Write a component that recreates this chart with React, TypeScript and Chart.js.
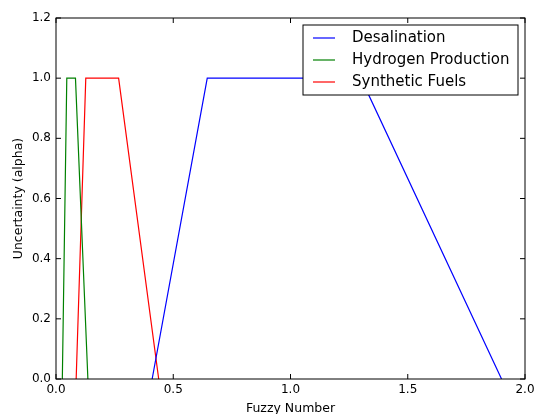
import React, { useEffect, useRef } from "react";
import { Chart, registerables } from "chart.js";

Chart.register(...registerables);

const seriesNames = ["Desalination", "Hydrogen Production", "Synthetic Fuels"];
const seriesColors = ["#0000ff", "#008000", "#ff0000"];
const desalX = [0.41, 0.645, 1.3, 1.9];
const desalY = [0, 1, 1, 0];
const hydroX = [0.027, 0.046, 0.083, 0.136];
const hydroY = [0, 1, 1, 0];
const synthX = [0.086, 0.127, 0.267, 0.438];
const synthY = [0, 1, 1, 0];
const xTicks = [0, 0.5, 1.0, 1.5, 2.0];
const yTicks = [0, 0.2, 0.4, 0.6, 0.8, 1.0, 1.2];

const FONT = "'DejaVu Sans', sans-serif";

const framePlugin = {
  id: "mplFrame",
  afterDatasetsDraw(chart: any) {
    const { ctx, chartArea: a, scales } = chart;
    const tl = 5;
    ctx.save();
    ctx.strokeStyle = "#000";
    ctx.lineWidth = 1;
    ctx.beginPath();
    for (const v of xTicks) {
      const px = scales.x.getPixelForValue(v);
      ctx.moveTo(px, a.bottom);
      ctx.lineTo(px, a.bottom - tl);
      ctx.moveTo(px, a.top);
      ctx.lineTo(px, a.top + tl);
    }
    for (const v of yTicks) {
      const py = scales.y.getPixelForValue(v);
      ctx.moveTo(a.left, py);
      ctx.lineTo(a.left + tl, py);
      ctx.moveTo(a.right, py);
      ctx.lineTo(a.right - tl, py);
    }
    ctx.stroke();
    ctx.strokeRect(a.left, a.top, a.right - a.left, a.bottom - a.top);

    // legend (matplotlib style, upper right)
    const bx = 303, by = 25, bw = 215, bh = 70;
    ctx.fillStyle = "#fff";
    ctx.fillRect(bx, by, bw, bh);
    ctx.strokeStyle = "#000";
    ctx.strokeRect(bx, by, bw, bh);
    ctx.font = `15px ${FONT}`;
    ctx.textBaseline = "middle";
    ctx.textAlign = "left";
    chart.data.datasets.forEach((ds: any, i: number) => {
      const y = by + 13 + i * 22;
      ctx.strokeStyle = ds.borderColor;
      ctx.lineWidth = 1.2;
      ctx.beginPath();
      ctx.moveTo(bx + 10, y);
      ctx.lineTo(bx + 32, y);
      ctx.stroke();
      ctx.fillStyle = "#000";
      ctx.fillText(ds.label, bx + 49, y);
    });
    ctx.restore();
  },
};

export default function App() {
  const ref = useRef<HTMLCanvasElement>(null);
  useEffect(() => {
    document.body.style.margin = "0";
    const mk = (xs: number[], ys: number[]) => xs.map((x, i) => ({ x, y: ys[i] }));
    const data = [mk(desalX, desalY), mk(hydroX, hydroY), mk(synthX, synthY)];
    const chart = new Chart(ref.current!, {
      type: "scatter",
      data: {
        datasets: data.map((d, i) => ({
          label: seriesNames[i],
          data: d,
          showLine: true,
          borderColor: seriesColors[i],
          backgroundColor: seriesColors[i],
          borderWidth: 1.2,
          pointRadius: 0,
          tension: 0,
        })),
      },
      options: {
        animation: false,
        responsive: false,
        layout: { padding: { top: 18, right: 10, left: 0, bottom: 0 } },
        plugins: { legend: { display: false }, tooltip: { enabled: false } },
        scales: {
          x: {
            type: "linear",
            min: 0,
            max: 2,
            afterBuildTicks: (s: any) => {
              s.ticks = xTicks.map((v) => ({ value: v }));
            },
            afterFit: (s: any) => {
              s.height = 35;
              s.paddingLeft = 0;
              s.paddingRight = 0;
            },
            grid: { display: false, drawTicks: false },
            border: { display: false },
            ticks: {
              padding: 4,
              color: "#000",
              font: { family: FONT, size: 12 },
              callback: (v: any) => Number(v).toFixed(1),
              maxRotation: 0,
            },
            title: {
              display: true,
              text: "Fuzzy Number",
              color: "#000",
              font: { family: FONT, size: 12.5 },
              padding: { top: 0, bottom: -2 },
            },
          },
          y: {
            type: "linear",
            min: 0,
            max: 1.2,
            afterBuildTicks: (s: any) => {
              s.ticks = yTicks.map((v) => ({ value: v }));
            },
            afterFit: (s: any) => {
              s.width = 56;
              s.paddingTop = 0;
              s.paddingBottom = 0;
            },
            grid: { display: false, drawTicks: false },
            border: { display: false },
            ticks: {
              padding: 5,
              color: "#000",
              font: { family: FONT, size: 12 },
              callback: (v: any) => Number(v).toFixed(1),
            },
            title: {
              display: true,
              text: "Uncertainty (alpha)",
              color: "#000",
              font: { family: FONT, size: 12.5 },
              padding: { top: 11, bottom: 0 },
            },
          },
        },
      },
      plugins: [framePlugin],
    });
    return () => chart.destroy();
  }, []);
  return (
    <div style={{ position: "fixed", left: 0, top: 0, width: 535, height: 414 }}>
      <canvas ref={ref} width={535} height={414} style={{ display: "block" }} />
    </div>
  );
}
